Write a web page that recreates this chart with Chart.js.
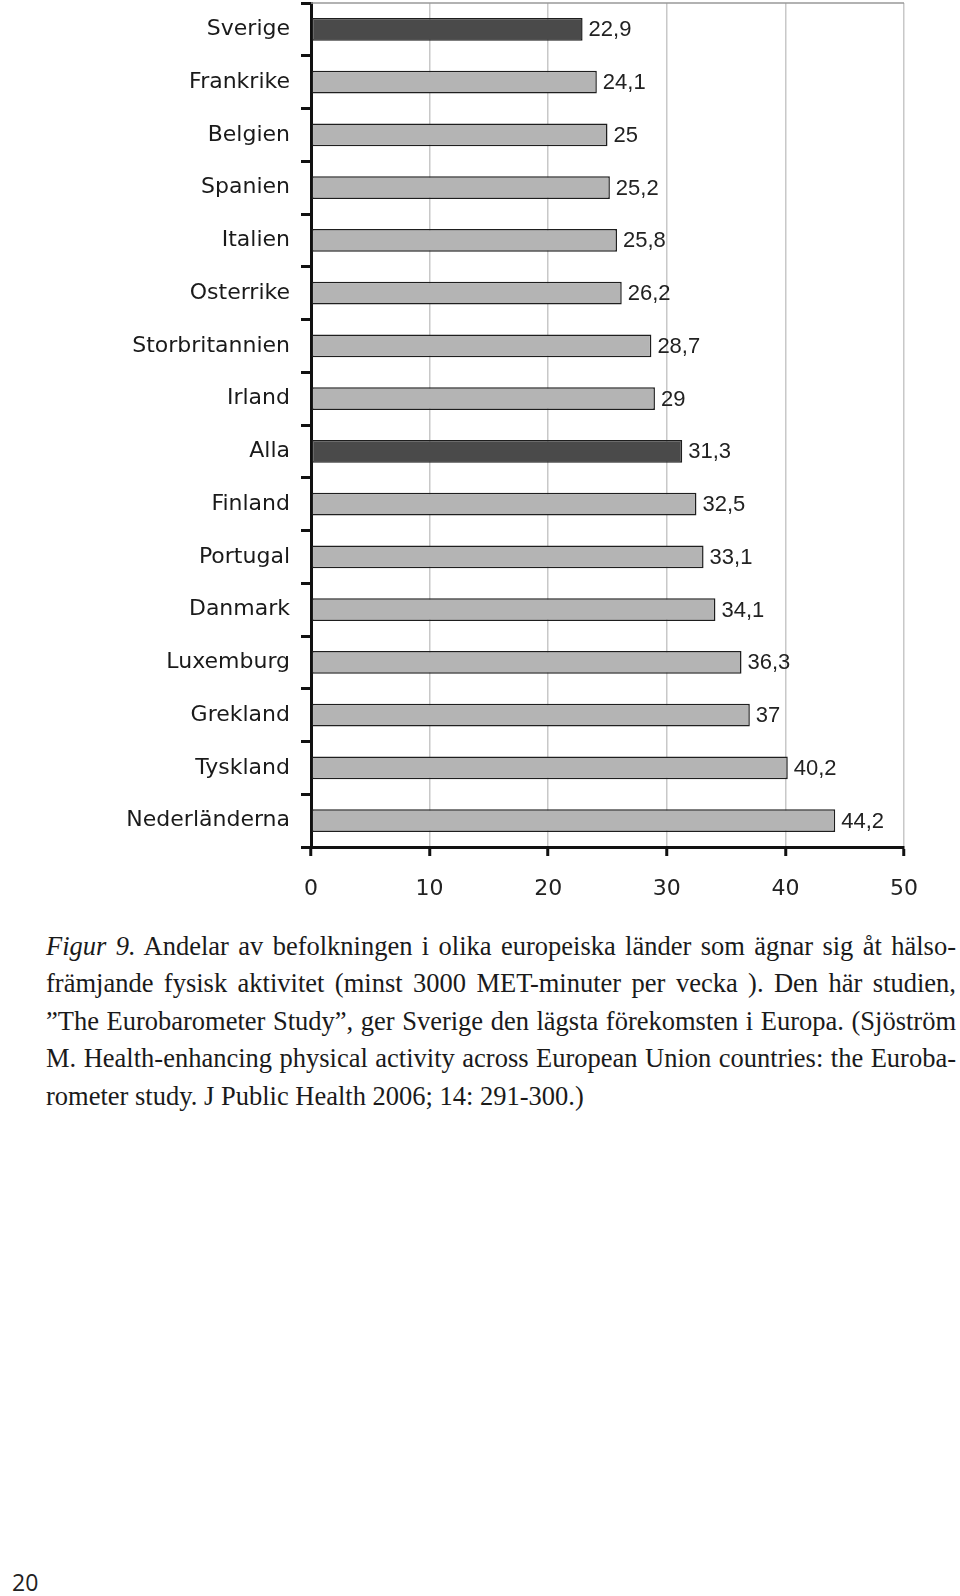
<!DOCTYPE html>
<html>
<head>
<meta charset="utf-8">
<script src="https://cdn.jsdelivr.net/npm/chart.js@4"></script>
<style>
    body { margin: 0; background: #fff; width: 960px; height: 1596px; position: relative; overflow: hidden; }
    #chartBox { position: absolute; left: 0; top: 0; width: 960px; height: 910px; }
    #caption { position: absolute; left: 46px; top: 928px; width: 910px; font-family: "Liberation Serif", "DejaVu Serif", serif; font-size: 26.5px; line-height: 37.4px; color: #1a1a1a; }
    #caption div { text-align: justify; text-align-last: justify; white-space: nowrap; }
    #caption div.last { text-align-last: left; }
    #pageNo { position: absolute; left: 12px; top: 1566px; font-family: "Open Sans", "DejaVu Sans", sans-serif; font-size: 23px; color: #222; }
</style>
</head>
<body>
<div id="chartBox"><canvas id="dataChart" width="960" height="910"></canvas></div>
<div id="caption">
    <div><i>Figur 9.</i> Andelar av befolkningen i olika europeiska länder som ägnar sig åt hälso-</div>
    <div>främjande fysisk aktivitet (minst 3000 MET-minuter per vecka ). Den här studien,</div>
    <div>”The Eurobarometer Study”, ger Sverige den lägsta förekomsten i Europa. (Sjöström</div>
    <div>M. Health-enhancing physical activity across European Union countries: the Euroba-</div>
    <div class="last">rometer study. J Public Health 2006; 14: 291-300.)</div>
</div>
<div id="pageNo">20</div>
<script>
const countries = ['Sverige', 'Frankrike', 'Belgien', 'Spanien', 'Italien', 'Osterrike', 'Storbritannien', 'Irland',
    'Alla', 'Finland', 'Portugal', 'Danmark', 'Luxemburg', 'Grekland', 'Tyskland', 'Nederländerna'];
const shares = [22.9, 24.1, 25, 25.2, 25.8, 26.2, 28.7, 29, 31.3, 32.5, 33.1, 34.1, 36.3, 37, 40.2, 44.2];
const highlighted = ['Sverige', 'Alla'];
const xTicks = [0, 10, 20, 30, 40, 50];

const barColors = countries.map(c => highlighted.includes(c) ? '#4a4a4a' : '#b4b4b4');

// value labels at the end of each bar, with decimal comma
const valueLabels = {
    id: 'valueLabels',
    afterDatasetsDraw(chart) {
        const ctx = chart.ctx;
        const meta = chart.getDatasetMeta(0);
        ctx.save();
        ctx.font = '22px "Liberation Sans", Arial, sans-serif';
        ctx.fillStyle = '#222';
        ctx.textBaseline = 'middle';
        ctx.textAlign = 'left';
        meta.data.forEach((bar, i) => {
            ctx.fillText(String(shares[i]).replace('.', ','), bar.x + 6, bar.y + 1);
        });
        ctx.restore();
    }
};

// thin grey frame on top of the plot area
const topBorder = {
    id: 'topBorder',
    beforeDatasetsDraw(chart) {
        const { ctx, chartArea } = chart;
        ctx.save();
        ctx.strokeStyle = '#999';
        ctx.lineWidth = 1.5;
        ctx.beginPath();
        ctx.moveTo(chartArea.left, chartArea.top);
        ctx.lineTo(chartArea.right, chartArea.top);
        ctx.stroke();
        ctx.restore();
    }
};

const ctx = document.getElementById('dataChart').getContext('2d');
const dataChart = new Chart(ctx, {
    type: 'bar',
    data: {
        labels: countries,
        datasets: [{
            data: shares,
            backgroundColor: barColors,
            borderColor: '#1e1e1e',
            borderWidth: 1.5,
            borderSkipped: false,
            barPercentage: 0.43,
            categoryPercentage: 1
        }]
    },
    options: {
        indexAxis: 'y',
        responsive: false,
        animation: false,
        layout: { padding: { top: 3, right: 56, left: 0, bottom: 0 } },
        plugins: {
            legend: { display: false },
            tooltip: { enabled: false }
        },
        scales: {
            x: {
                min: 0,
                max: 50,
                afterBuildTicks: (scale) => { scale.ticks = xTicks.map(v => ({ value: v })); },
                afterFit: (scale) => { scale.height = 63; },
                grid: {
                    color: '#c8c8c8',
                    lineWidth: 1.5,
                    tickColor: '#111',
                    tickLength: 9,
                    tickWidth: 3
                },
                border: { color: '#111', width: 3 },
                ticks: {
                    color: '#222',
                    padding: 20,
                    font: { family: '"DejaVu Sans", sans-serif', size: 22 }
                }
            },
            y: {
                afterFit: (scale) => {
                    scale.width = 311;
                    scale.paddingTop = 0;
                    scale.paddingBottom = 0;
                },
                grid: {
                    drawOnChartArea: false,
                    offset: true,
                    tickColor: '#111',
                    tickLength: 10,
                    tickWidth: 3
                },
                border: { color: '#111', width: 3 },
                ticks: {
                    color: '#1a1a1a',
                    padding: 11,
                    font: { family: '"DejaVu Sans", sans-serif', size: 22 }
                }
            }
        }
    },
    plugins: [valueLabels, topBorder]
});
</script>
</body>
</html>
